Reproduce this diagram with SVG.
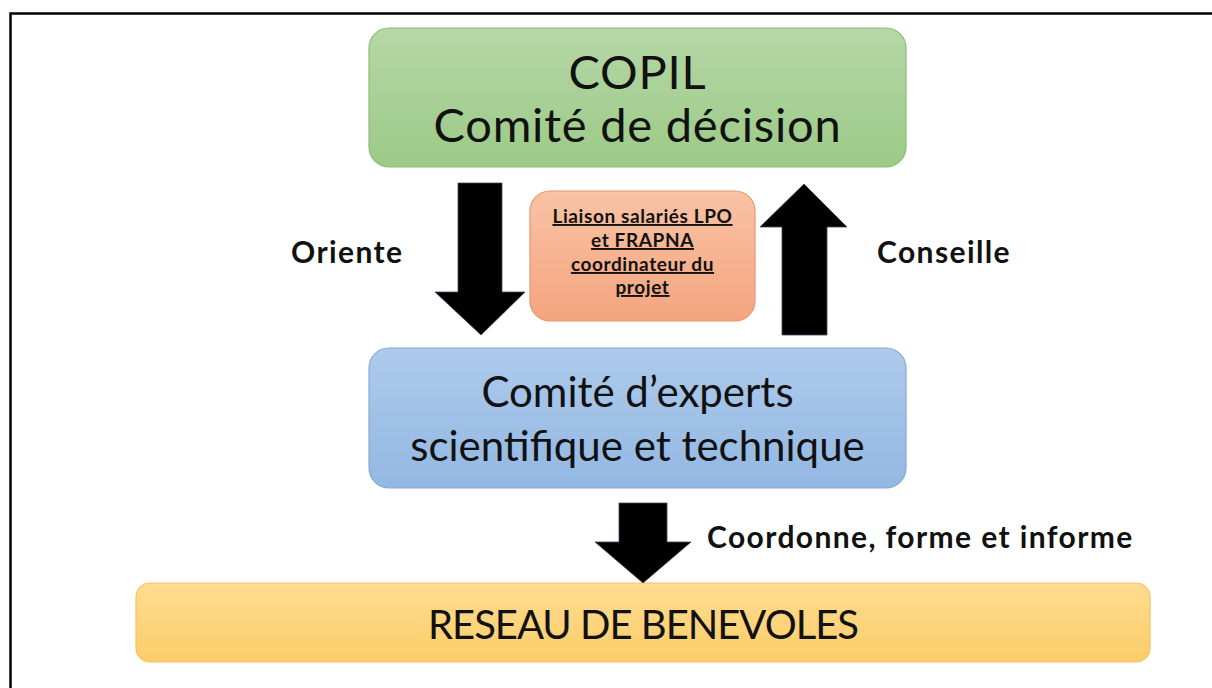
<svg xmlns="http://www.w3.org/2000/svg" width="1212" height="688" viewBox="0 0 1212 688">
<style>
.box{stroke-width:1.2}
.big{font-family:Lato,"Open Sans","Liberation Sans",sans-serif;font-size:42px;fill:#111;text-anchor:middle}
.green{font-size:47px;letter-spacing:0.8px}
.lbl{font-family:Lato,"Open Sans","Liberation Sans",sans-serif;font-weight:bold;font-size:30px;letter-spacing:1.4px;fill:#111}
.small{font-family:Lato,"Open Sans","Liberation Sans",sans-serif;font-weight:bold;font-size:19px;letter-spacing:0.6px;fill:#111;text-anchor:middle;text-decoration:underline}
.arrow{fill:#000;stroke:#3a4a5a;stroke-width:0.8}
</style>
<defs>
<linearGradient id="gGreen" x1="0" y1="0" x2="0" y2="1"><stop offset="0" stop-color="#b5d7a6"/><stop offset="1" stop-color="#9cca87"/></linearGradient>
<linearGradient id="gBlue" x1="0" y1="0" x2="0" y2="1"><stop offset="0" stop-color="#adcaeb"/><stop offset="1" stop-color="#93b8e3"/></linearGradient>
<linearGradient id="gOrange" x1="0" y1="0" x2="0" y2="1"><stop offset="0" stop-color="#f9c3a5"/><stop offset="1" stop-color="#f4a47f"/></linearGradient>
<linearGradient id="gYellow" x1="0" y1="0" x2="0" y2="1"><stop offset="0" stop-color="#fedc90"/><stop offset="1" stop-color="#fccd69"/></linearGradient>
</defs>
<rect x="0" y="0" width="1212" height="688" fill="#fff"/>
<path d="M10.5,700 V13.5 H1220" fill="none" stroke="#000" stroke-width="2.5"/>
<g id="copil">
<rect class="box" x="369" y="28" width="537" height="139" rx="20" fill="url(#gGreen)" stroke="#8fbb7b"/>
<text class="big green" x="637.5" y="89">COPIL</text>
<text class="big green" x="637.5" y="142">Comité de décision</text>
</g>
<g id="liaison">
<rect class="box" x="530" y="191" width="225" height="130" rx="20" fill="url(#gOrange)" stroke="#e8956e"/>
<text class="small" x="642.5" y="223">Liaison salariés LPO</text>
<text class="small" x="642.5" y="247">et FRAPNA</text>
<text class="small" x="642.5" y="271">coordinateur du</text>
<text class="small" x="642.5" y="294">projet</text>
</g>
<g id="experts">
<rect class="box" x="369" y="348" width="537" height="140" rx="20" fill="url(#gBlue)" stroke="#86aad6"/>
<text class="big" x="637.5" y="407">Comité d’experts</text>
<text class="big" x="637.5" y="461">scientifique et technique</text>
</g>
<g id="reseau">
<rect class="box" x="136" y="583" width="1014" height="79" rx="14" fill="url(#gYellow)" stroke="#f2c45e"/>
<text class="big" x="643" y="639" style="font-size:40px;letter-spacing:-1px">RESEAU DE BENEVOLES</text>
</g>
<g id="connectors">
<polygon class="arrow" points="458,183 502,183 502,292 525,292 481,335 435,292 458,292"/>
<polygon class="arrow" points="782,335 827,335 827,227 847,227 804,184 760,227 782,227"/>
<polygon class="arrow" points="619,503 667,503 667,542 691,542 643,583 595,542 619,542"/>
<text class="lbl" x="291" y="263">Oriente</text>
<text class="lbl" x="877" y="263">Conseille</text>
<text class="lbl" x="707" y="548">Coordonne, forme et informe</text>
</g>
</svg>
